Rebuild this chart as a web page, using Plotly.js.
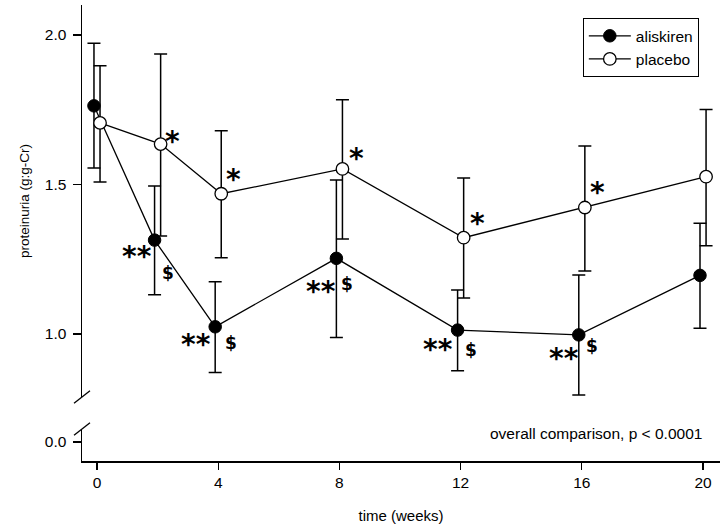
<!DOCTYPE html>
<html><head><meta charset="utf-8">
<script src="https://cdn.plot.ly/plotly-3.0.1.min.js"></script>
<style>html,body{margin:0;padding:0;background:#fff}#chart{width:724px;height:528px}</style>
</head><body><div id="chart"></div>
<script>
// ---------------- data ----------------
const weeks = [0, 2, 4, 8, 12, 16, 20];
const aliskirenMean  = [1.763, 1.314, 1.024, 1.253, 1.013, 0.997, 1.196];
const aliskirenUpper = [1.972, 1.495, 1.175, 1.515, 1.147, 1.197, 1.370];
const aliskirenLower = [1.555, 1.131, 0.871, 0.988, 0.877, 0.796, 1.019];
const placeboMean  = [1.706, 1.635, 1.469, 1.552, 1.322, 1.423, 1.526];
const placeboUpper = [1.897, 1.936, 1.680, 1.783, 1.522, 1.629, 1.751];
const placeboLower = [1.508, 1.328, 1.255, 1.318, 1.120, 1.211, 1.295];
const seriesNames = ['aliskiren', 'placebo'];
const xTicks = [0, 4, 8, 12, 16, 20];
const yTicksUpper = [1.0, 1.5, 2.0];
const yTicksLower = [0.0];
const placeboStarWeeks = [2, 4, 8, 12, 16];
const aliskirenStarWeeks = [2, 4, 8, 12, 16];
const aliskirenDollarWeeks = [2, 4, 8, 12, 16];
const noteText = 'overall comparison, p < 0.0001';
const xTitle = 'time (weeks)';
const yTitle = 'proteinuria (g:g-Cr)';

// ---------------- styling / layout ----------------
const FONT = 'Liberation Sans, Arial, Helvetica, sans-serif';
const MARKFONT = 'DejaVu Sans, Liberation Sans, sans-serif';
const DODGE = 0.1;
// pixel offsets (dx right, dy down) of marks relative to the marker centre
const placeboStarOff = {2:[11.7,-9], 4:[12.3,-20.7], 8:[14.3,-17.3], 12:[13.7,-20.7], 16:[12.4,-21.7]};
const aliskirenStarOff = {2:[-17.5,10], 4:[-19.5,11.3], 8:[-15,26.7], 12:[-19.8,13], 16:[-14.5,17]};
const aliskirenDollarOff = {2:[13,33], 4:[16,16.6], 8:[11,25.4], 12:[13.4,19.7], 16:[13.3,11.3]};
const STAR_CORR = 6.4;

const errPlus = (u, m) => u.map((v, i) => v - m[i]);
const errMinus = (l, m) => m.map((v, i) => v - l[i]);

const traces = [
  {
    type: 'scatter', mode: 'lines+markers', name: seriesNames[0],
    x: weeks.map(w => w - DODGE), y: aliskirenMean,
    line: {color: '#000', width: 1.3},
    marker: {size: 12.5, color: '#000', line: {color: '#000', width: 1}},
    error_y: {type: 'data', symmetric: false, array: errPlus(aliskirenUpper, aliskirenMean),
              arrayminus: errMinus(aliskirenLower, aliskirenMean), color: '#000', thickness: 1.5, width: 6.5},
    xaxis: 'x', yaxis: 'y'
  },
  {
    type: 'scatter', mode: 'lines+markers', name: seriesNames[1],
    x: weeks.map(w => w + DODGE), y: placeboMean,
    line: {color: '#000', width: 1.3},
    marker: {size: 12.5, color: '#fff', line: {color: '#000', width: 1.3}},
    error_y: {type: 'data', symmetric: false, array: errPlus(placeboUpper, placeboMean),
              arrayminus: errMinus(placeboLower, placeboMean), color: '#000', thickness: 1.5, width: 6.5},
    xaxis: 'x', yaxis: 'y'
  },
  // empty carrier trace so that the lower (broken) axis segment gets its own subplot
  {type: 'scatter', mode: 'markers', x: [null], y: [null], xaxis: 'x', yaxis: 'y2',
   showlegend: false, hoverinfo: 'skip'}
];

const annotations = [];
function mark(text, wk, series, off, size, corr) {
  const i = weeks.indexOf(wk);
  const isA = series === 'a';
  annotations.push({
    text: text, x: wk + (isA ? -DODGE : DODGE), y: isA ? aliskirenMean[i] : placeboMean[i],
    xref: 'x', yref: 'y', showarrow: false, xanchor: 'center', yanchor: 'middle',
    xshift: off[0], yshift: -(off[1] + corr),
    font: {family: MARKFONT, size: size, color: '#000', weight: 'bold'}
  });
}
placeboStarWeeks.forEach(w => mark('*', w, 'p', placeboStarOff[w], 28, STAR_CORR));
aliskirenStarWeeks.forEach(w => mark('**', w, 'a', aliskirenStarOff[w], 28, STAR_CORR));
aliskirenDollarWeeks.forEach(w => mark('$', w, 'a', aliskirenDollarOff[w], 17, 0));
annotations.push({
  text: noteText, xref: 'paper', yref: 'paper', x: 0.975, y: 0.0614,
  xanchor: 'right', yanchor: 'middle', showarrow: false, font: {family: FONT, size: 15.5, color: '#000'}
});

const axisCommon = {
  ticks: 'outside', tickcolor: '#000', tickwidth: 1.3, showline: true, linecolor: '#000', linewidth: 1.5,
  showgrid: false, zeroline: false, tickfont: {family: FONT, size: 15.5, color: '#000'}
};

const layout = {
  width: 724, height: 528, margin: {l: 82, r: 4, t: 5, b: 67},
  paper_bgcolor: '#fff', plot_bgcolor: 'rgba(0,0,0,0)',
  font: {family: FONT, size: 15, color: '#000'},
  showlegend: true,
  legend: {x: 0.785, y: 0.971, xanchor: 'left', yanchor: 'top', bgcolor: '#fff', bordercolor: '#000',
           borderwidth: 1, itemwidth: 42, font: {family: FONT, size: 15.5, color: '#000'}, tracegroupgap: 0},
  xaxis: Object.assign({}, axisCommon, {
    range: [-0.495, 20.56], anchor: 'y2', tickvals: xTicks, ticklen: 7,
    title: {text: xTitle, font: {family: FONT, size: 15, color: '#000'}, standoff: 20}
  }),
  yaxis: Object.assign({}, axisCommon, {
    domain: [0.1404, 1], range: [0.7893, 2.1003], anchor: 'x', tickvals: yTicksUpper, tickformat: '.1f', ticklen: 8,
    ticklabelstandoff: 3,
    title: {text: yTitle, font: {family: FONT, size: 13.5, color: '#000'}, standoff: 12}
  }),
  yaxis2: Object.assign({}, axisCommon, {
    domain: [0, 0.0702], range: [-0.0635, 0.0435], anchor: 'x', tickvals: yTicksLower, tickformat: '.1f', ticklen: 8,
    ticklabelstandoff: 3
  }),
  shapes: [0.1404, 0.0702].map(yy => ({
    type: 'line', xref: 'paper', yref: 'paper', xsizemode: 'pixel', ysizemode: 'pixel',
    xanchor: 0, yanchor: yy, x0: -8, x1: 8, y0: -6.3, y1: 6.3, line: {color: '#000', width: 1.3}
  })),
  annotations: annotations
};

Plotly.newPlot('chart', traces, layout, {displayModeBar: false, staticPlot: true});
</script>
</body></html>
